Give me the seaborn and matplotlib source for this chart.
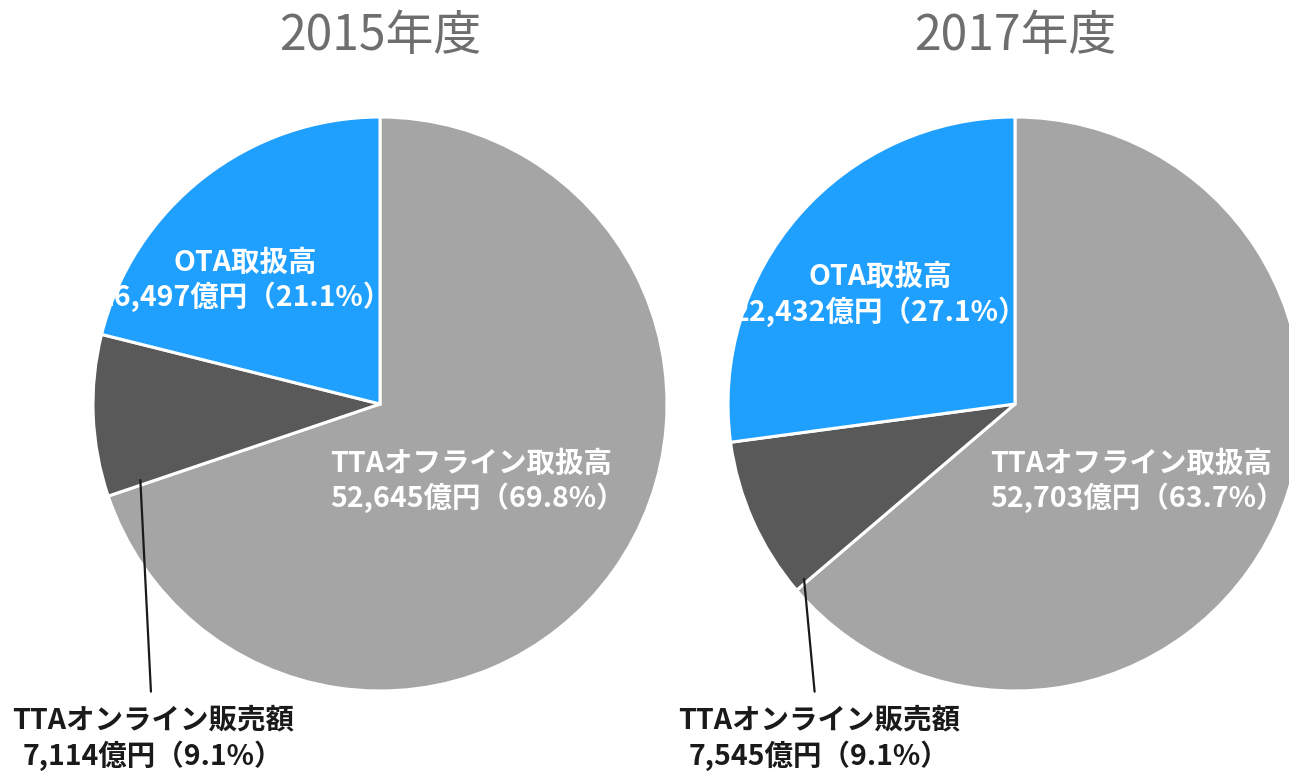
import matplotlib
matplotlib.use("Agg")
import matplotlib.pyplot as plt
import seaborn as sns

# ── データ ──────────────────────────────────────────────────────────────────
years       = ["2015年度", "2017年度"]
segments    = ["TTAオフライン取扱高", "TTAオンライン販売額", "OTA取扱高"]
amounts_oku = {"2015年度": [52645, 7114, 16497],
               "2017年度": [52703, 7545, 22432]}
shares_pct  = {"2015年度": [69.8, 9.1, 21.1],
               "2017年度": [63.7, 9.1, 27.1]}

# ── スタイル ────────────────────────────────────────────────────────────────
sns.set_theme(style="white")
plt.rcParams["font.family"] = ["Noto Sans CJK JP", "DejaVu Sans"]

COLORS     = ["#A5A5A5", "#595959", "#1FA0FF"]
TITLE_CLR  = "#6E6E6E"
LABEL_CLR  = ["white", "#1A1A1A", "white"]
FS         = 20.5

# ラベル位置 (円の半径 = 1 の座標)
POS = {
    "2015年度": {"offline": (-0.175, -0.27), "ota": (-0.47, 0.43),
                 "online": (-0.79, -1.165), "leader": (-0.835, -0.265)},
    "2017年度": {"offline": (-0.087, -0.27), "ota": (-0.47, 0.38),
                 "online": (-0.683, -1.165), "leader": (-0.735, -0.61)},
}

W, H = 1289, 774
fig = plt.figure(figsize=(W / 100, H / 100), dpi=100, facecolor="white")

centers = [(380, 404), (1015, 404)]
R = 287

for year, (cx, cy) in zip(years, centers):
    ax = fig.add_axes([(cx - R) / W, (H - cy - R) / H, 2 * R / W, 2 * R / H])
    ax.pie(shares_pct[year], colors=COLORS, startangle=90, counterclock=False,
           radius=1, wedgeprops=dict(edgecolor="white", linewidth=2.2))
    ax.set_xlim(-1, 1)
    ax.set_ylim(-1, 1)
    ax.set_aspect("equal")
    ax.axis("off")

    amt = amounts_oku[year]
    pct = shares_pct[year]
    p = POS[year]

    ax.text(*p["offline"],
            f"{segments[0]}\n{amt[0]:,}億円（{pct[0]}%）",
            ha="left", va="center", fontsize=FS, fontweight="bold",
            color=LABEL_CLR[0], linespacing=1.2)
    ax.text(*p["ota"],
            f"{segments[2]}\n{amt[2]:,}億円（{pct[2]}%）",
            ha="center", va="center", fontsize=FS, fontweight="bold",
            color=LABEL_CLR[2], linespacing=1.2)
    ax.annotate(f"{segments[1]}\n{amt[1]:,}億円（{pct[1]}%）",
                xy=p["leader"], xytext=p["online"],
                ha="center", va="center", fontsize=FS, fontweight="bold",
                color=LABEL_CLR[1], linespacing=1.25, annotation_clip=False,
                arrowprops=dict(arrowstyle="-", color="#1A1A1A", lw=1.6,
                                shrinkA=8, shrinkB=0))

    fig.text(cx / W, 1 - 36 / H, year, ha="center", va="center",
             fontsize=34.5, color=TITLE_CLR)

fig.savefig("out.png", dpi=100)
